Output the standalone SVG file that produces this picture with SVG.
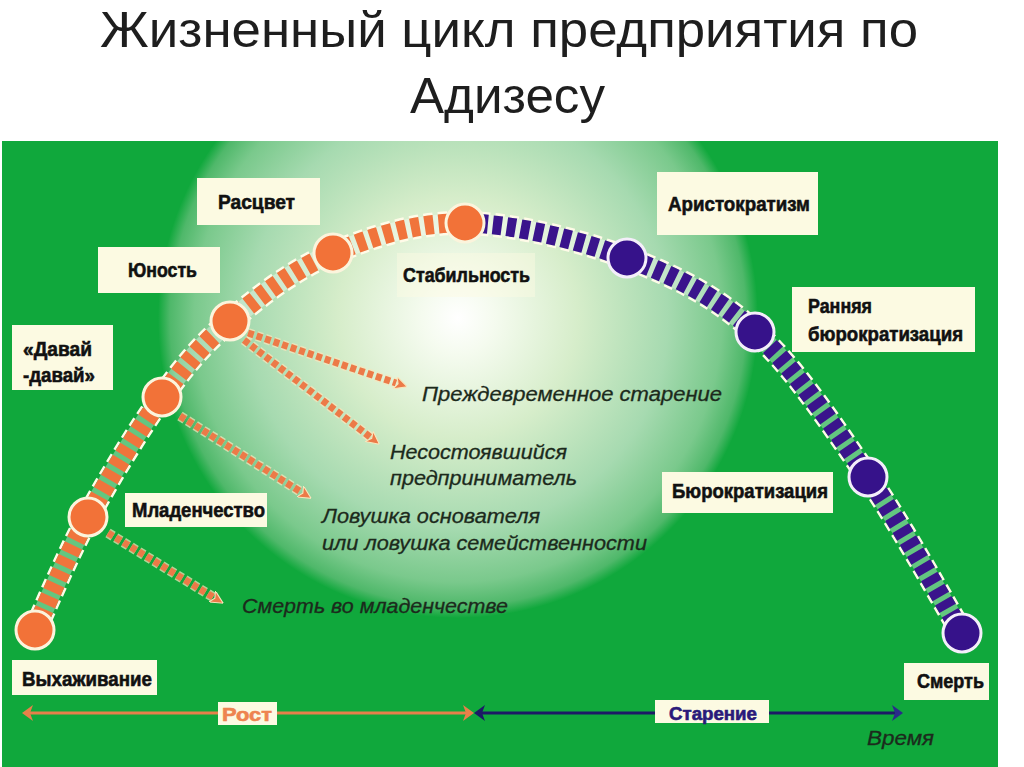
<svg xmlns="http://www.w3.org/2000/svg" width="1024" height="767" viewBox="0 0 1024 767">
<style>
.title{font-family:"Liberation Sans",Arial,sans-serif;font-size:50px;fill:#1e1e1e}
.box{fill:#fcfae2}
.lbl{font-family:"Liberation Sans",Arial,sans-serif;font-weight:bold;font-size:21px;fill:#111;stroke:#111;stroke-width:0.6}
.note{font-family:"Liberation Sans",Arial,sans-serif;font-style:italic;font-size:20px;fill:#1c2a1c;stroke:#1c2a1c;stroke-width:0.3}
.nodeO{fill:#f27238;stroke:#fbf4dc;stroke-width:3}
.nodeP{fill:#36128a;stroke:#f4eefa;stroke-width:3}
.edge{fill:none;stroke:#fffbe8;stroke-width:24;stroke-dasharray:9 5}
.under{fill:none;stroke:#ffffff;stroke-opacity:0.35;stroke-width:19}
.bandO{fill:none;stroke:#f0743c;stroke-width:19;stroke-dasharray:9 5}
.bandP{fill:none;stroke:#3a148c;stroke-width:19;stroke-dasharray:9 5}
.sideU{fill:none;stroke:#f8e6bc;stroke-opacity:0.7;stroke-width:10;stroke-dasharray:6 3}
.sideA{fill:none;stroke:#ec7a48;stroke-width:7;stroke-dasharray:6 3}
</style>
<defs>
<radialGradient id="glow" gradientUnits="userSpaceOnUse" cx="458" cy="318" r="300">
<stop offset="0" stop-color="#ffffff"/>
<stop offset="0.12" stop-color="#f5fbef"/>
<stop offset="0.4" stop-color="#d6edca"/>
<stop offset="0.7" stop-color="#a6dab0"/>
<stop offset="0.88" stop-color="#7ac98c"/>
<stop offset="0.96" stop-color="#4fb86a"/>
<stop offset="1" stop-color="#10a83c"/>
</radialGradient>
<clipPath id="panel"><rect x="2" y="141" width="996" height="626"/></clipPath>
<mask id="edgeMask" maskUnits="userSpaceOnUse" x="0" y="0" width="1024" height="767">
<rect x="0" y="0" width="1024" height="767" fill="#fff"/>
<path d="M35,630 C43.8,611.2 66.8,555.8 88,517 C109.2,478.2 138.3,429.7 162,397 C185.7,364.3 201.5,345 230,321 C258.5,297 293.8,269.3 333,253 C372.2,236.7 416,222.2 465,223 C514,223.8 578.7,239.8 627,258 C675.3,276.2 714.8,295.5 755,332 C795.2,368.5 833.5,426.8 868,477 C902.5,527.2 946.3,607 962,633" fill="none" stroke="#000" stroke-width="19"/>
</mask>
<marker id="ah" viewBox="0 0 12 12" refX="1" refY="6" markerWidth="13" markerHeight="13" markerUnits="userSpaceOnUse" orient="auto">
<path d="M0,0 L12,6 L0,12 L3,6 Z" fill="#ec7a48" stroke="#f8e6bc" stroke-width="1"/>
</marker>
</defs>

<rect x="0" y="0" width="1024" height="767" fill="#ffffff"/>
<text class="title" x="100" y="47" textLength="818" lengthAdjust="spacingAndGlyphs">Жизненный цикл предприятия по</text>
<text class="title" x="410" y="113" textLength="195" lengthAdjust="spacingAndGlyphs">Адизесу</text>

<g id="background" clip-path="url(#panel)">
<rect x="2" y="141" width="996" height="626" fill="#10a83c"/>
<circle cx="458" cy="318" r="300" fill="url(#glow)"/>
</g>

<g id="connectors">
<g mask="url(#edgeMask)">
<path class="edge" d="M35,630 C43.8,611.2 66.8,555.8 88,517 C109.2,478.2 138.3,429.7 162,397 C185.7,364.3 201.5,345 230,321 C258.5,297 293.8,269.3 333,253 C372.2,236.7 416,222.2 465,223 C514,223.8 578.7,239.8 627,258 C675.3,276.2 714.8,295.5 755,332 C795.2,368.5 833.5,426.8 868,477 C902.5,527.2 946.3,607 962,633"/>
</g>
<path class="under" d="M35,630 C43.8,611.2 66.8,555.8 88,517 C109.2,478.2 138.3,429.7 162,397 C185.7,364.3 201.5,345 230,321 C258.5,297 293.8,269.3 333,253 C372.2,236.7 416,222.2 465,223 C514,223.8 578.7,239.8 627,258 C675.3,276.2 714.8,295.5 755,332 C795.2,368.5 833.5,426.8 868,477 C902.5,527.2 946.3,607 962,633"/>
<path class="bandO" d="M35,630 C43.8,611.2 66.8,555.8 88,517 C109.2,478.2 138.3,429.7 162,397 C185.7,364.3 201.5,345 230,321 C258.5,297 293.8,269.3 333,253 C372.2,236.7 416,222.2 465,223"/>
<path class="bandP" d="M465,223 C514,223.8 578.7,239.8 627,258 C675.3,276.2 714.8,295.5 755,332 C795.2,368.5 833.5,426.8 868,477 C902.5,527.2 946.3,607 962,633"/>

<path class="sideU" d="M248,333 L396,383"/>
<path class="sideA" d="M248,333 L396,383" marker-end="url(#ah)"/>
<path class="sideU" d="M244,340 L370,437"/>
<path class="sideA" d="M244,340 L370,437" marker-end="url(#ah)"/>
<path class="sideU" d="M180,416 L301,492"/>
<path class="sideA" d="M180,416 L301,492" marker-end="url(#ah)"/>
<path class="sideU" d="M108,533 L213,597"/>
<path class="sideA" d="M108,533 L213,597" marker-end="url(#ah)"/>

<g id="axis">
<line x1="30" y1="713" x2="466" y2="713" stroke="#e8804a" stroke-width="3"/>
<polygon points="22,713 33,705 30,713 33,721" fill="#e8804a"/>
<polygon points="474,713 463,705 466,713 463,721" fill="#e8804a"/>
<line x1="482" y1="713" x2="895" y2="713" stroke="#1c1a66" stroke-width="3"/>
<polygon points="474,713 485,705 482,713 485,721" fill="#1c1a66"/>
<polygon points="903,713 892,705 895,713 892,721" fill="#2a2a8a"/>
</g>
</g>

<g id="node-vykhazhivanie">
<circle class="nodeO" cx="35" cy="630" r="19"/>
<rect class="box" x="12" y="660" width="145" height="35"/>
<text class="lbl" x="22" y="686" textLength="130" lengthAdjust="spacingAndGlyphs">Выхаживание</text>
</g>
<g id="node-mladenchestvo">
<circle class="nodeO" cx="88" cy="517" r="19"/>
<rect class="box" x="125" y="493" width="142" height="34"/>
<text class="lbl" x="132" y="517" textLength="133" lengthAdjust="spacingAndGlyphs">Младенчество</text>
</g>
<g id="node-davai">
<circle class="nodeO" cx="162" cy="397" r="19"/>
<rect class="box" x="12" y="325" width="101" height="65"/>
<text class="lbl" x="23" y="356" textLength="69" lengthAdjust="spacingAndGlyphs">«Давай</text>
<text class="lbl" x="23" y="382" textLength="72" lengthAdjust="spacingAndGlyphs">-давай»</text>
</g>
<g id="node-yunost">
<circle class="nodeO" cx="230" cy="321" r="19"/>
<rect class="box" x="98" y="247" width="122" height="46"/>
<text class="lbl" x="128" y="277" textLength="69" lengthAdjust="spacingAndGlyphs">Юность</text>
</g>
<g id="node-rastsvet">
<circle class="nodeO" cx="333" cy="253" r="19"/>
<rect class="box" x="197" y="178" width="123" height="47"/>
<text class="lbl" x="218" y="209" textLength="77" lengthAdjust="spacingAndGlyphs">Расцвет</text>
</g>
<g id="node-stabilnost">
<circle class="nodeO" cx="465" cy="223" r="19"/>
<rect class="box" x="397" y="253" width="138" height="44" opacity="0.45"/>
<text class="lbl" x="403" y="282" textLength="127" lengthAdjust="spacingAndGlyphs">Стабильность</text>
</g>
<g id="node-aristokratizm">
<circle class="nodeP" cx="627" cy="258" r="19"/>
<rect class="box" x="657" y="172" width="161" height="63"/>
<text class="lbl" x="668" y="211" textLength="142" lengthAdjust="spacingAndGlyphs">Аристократизм</text>
</g>
<g id="node-rannyaya">
<circle class="nodeP" cx="755" cy="332" r="19"/>
<rect class="box" x="792" y="287" width="183" height="65"/>
<text class="lbl" x="808" y="313" textLength="64" lengthAdjust="spacingAndGlyphs">Ранняя</text>
<text class="lbl" x="808" y="341" textLength="155" lengthAdjust="spacingAndGlyphs">бюрократизация</text>
</g>
<g id="node-byurokratizatsiya">
<circle class="nodeP" cx="868" cy="477" r="19"/>
<rect class="box" x="662" y="472" width="171" height="41"/>
<text class="lbl" x="672" y="498" textLength="156" lengthAdjust="spacingAndGlyphs">Бюрократизация</text>
</g>
<g id="node-smert">
<circle class="nodeP" cx="962" cy="633" r="19"/>
<rect class="box" x="904" y="663" width="85" height="37"/>
<text class="lbl" x="917" y="688" textLength="67" lengthAdjust="spacingAndGlyphs">Смерть</text>
</g>

<g id="outcomes">
<text class="note" x="422" y="401" textLength="300" lengthAdjust="spacingAndGlyphs">Преждевременное старение</text>
<text class="note" x="390" y="459" textLength="177" lengthAdjust="spacingAndGlyphs">Несостоявшийся</text>
<text class="note" x="390" y="485" textLength="187" lengthAdjust="spacingAndGlyphs">предприниматель</text>
<text class="note" x="322" y="523" textLength="218" lengthAdjust="spacingAndGlyphs">Ловушка основателя</text>
<text class="note" x="322" y="550" textLength="325" lengthAdjust="spacingAndGlyphs">или ловушка семейственности</text>
<text class="note" x="242" y="613" textLength="266" lengthAdjust="spacingAndGlyphs">Смерть во младенчестве</text>
</g>

<g id="axis-labels">
<rect class="box" x="218" y="702" width="59" height="23"/>
<text class="lbl" x="222" y="721" style="fill:#ee8450;stroke:#ee8450;font-size:18px" textLength="50" lengthAdjust="spacingAndGlyphs">Рост</text>
<rect class="box" x="655" y="700" width="114" height="23"/>
<text class="lbl" x="669" y="720" style="fill:#2a1a7a;stroke:#2a1a7a;font-size:18px" textLength="88" lengthAdjust="spacingAndGlyphs">Старение</text>
<text class="note" x="867" y="745" textLength="67" lengthAdjust="spacingAndGlyphs">Время</text>
</g>
</svg>
